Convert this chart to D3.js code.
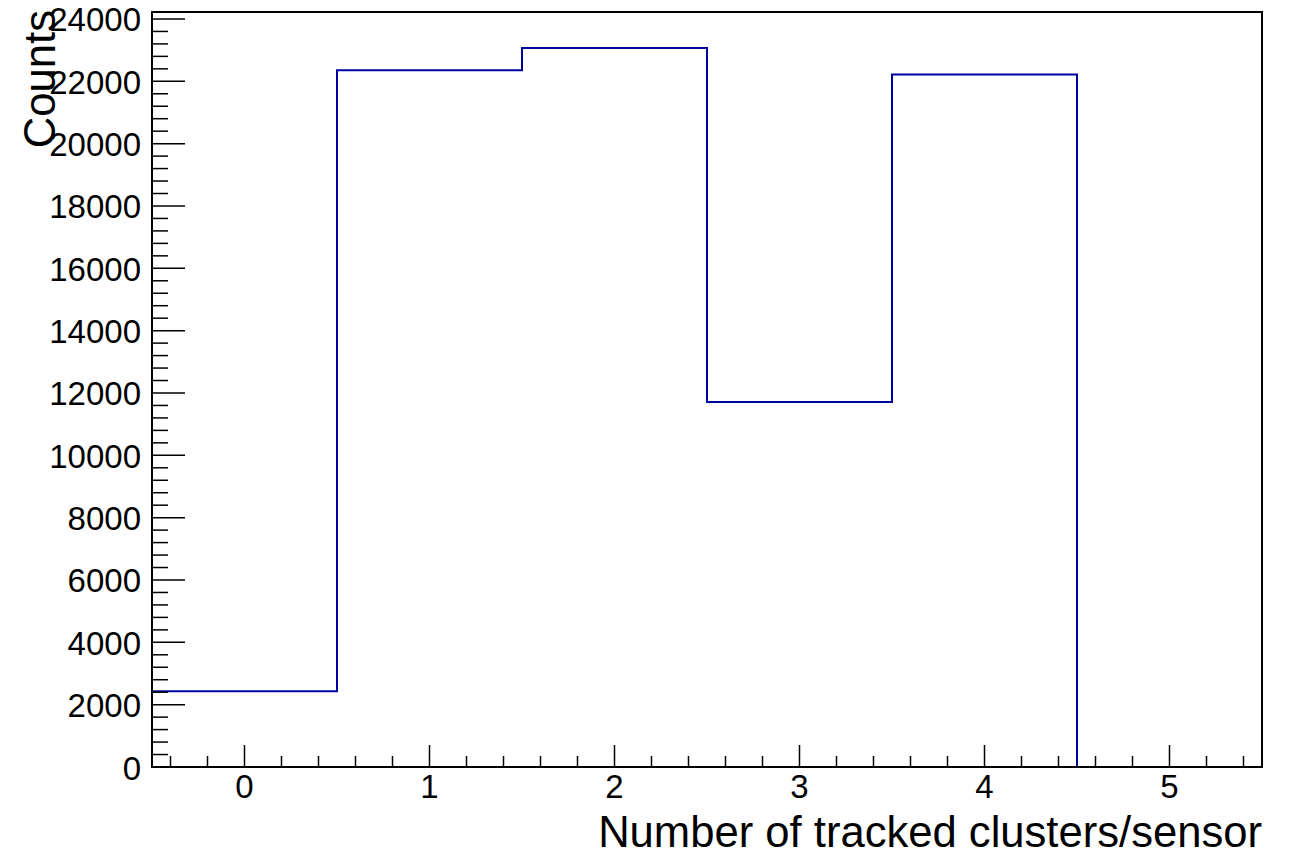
<!DOCTYPE html>
<html>
<head>
<meta charset="utf-8">
<script src="https://cdn.jsdelivr.net/npm/d3@7"></script>
<style>
  html, body { margin: 0; padding: 0; background: #fff; }
  svg { display: block; }
  text { font-family: "Liberation Sans", Arial, Helvetica, sans-serif; fill: #000; }
</style>
</head>
<body>
<svg id="chart" width="1295" height="856"></svg>
<script>
// ---- data ----
const binCenters = [0, 1, 2, 3, 4, 5];
const binCounts  = [2430, 22355, 23070, 11712, 22215, 0];
const xTickLabels = ["0", "1", "2", "3", "4", "5"];
const yTickValues = [0, 2000, 4000, 6000, 8000, 10000, 12000, 14000, 16000, 18000, 20000, 22000, 24000];
const xTitle = "Number of tracked clusters/sensor";
const yTitle = "Counts";

// ---- layout ----
const padL = 152, padR = 1262, padT = 12, padB = 767;
const svg = d3.select("#chart");

const x = d3.scaleLinear().domain([-0.5, 5.5]).range([padL, padR]);
const yMax = d3.max(binCounts) * 1.05;
const y = d3.scaleLinear().domain([0, yMax]).range([padB, padT]);

// histogram step path
let p = `M${x(binCenters[0] - 0.5)},${y(binCounts[0])}`;
binCenters.forEach((c, i) => {
  if (i > 0) p += `V${y(binCounts[i])}`;
  p += `H${x(c + 0.5)}`;
});
svg.append("path")
  .attr("d", p)
  .attr("fill", "none")
  .attr("stroke", "#0000a0")
  .attr("stroke-width", 2);

// frame
svg.append("rect")
  .attr("x", padL).attr("y", padT)
  .attr("width", padR - padL).attr("height", padB - padT)
  .attr("fill", "none").attr("stroke", "#000").attr("stroke-width", 2);

// y axis ticks (inside)
const yMinor = d3.range(0, 24001, 400);
const gy = svg.append("g");
gy.selectAll("line").data(yMinor).join("line")
  .attr("x1", padL).attr("x2", d => padL + (d % 2000 === 0 ? 33 : 16))
  .attr("y1", d => y(d)).attr("y2", d => y(d))
  .attr("stroke", "#000").attr("stroke-width", 1.5);
gy.selectAll("text").data(yTickValues).join("text")
  .attr("x", padL - 11).attr("y", d => y(d) + 1)
  .attr("text-anchor", "end").attr("dominant-baseline", "central")
  .attr("font-size", 33)
  .text(d => d);

// x axis ticks (inside)
const xMinor = d3.range(-2, 28).map(i => i * 0.2).filter(v => v > -0.5 && v < 5.5);
const gx = svg.append("g");
gx.selectAll("line").data(xMinor).join("line")
  .attr("x1", d => x(d)).attr("x2", d => x(d))
  .attr("y1", padB)
  .attr("y2", d => padB - (Math.abs(d - Math.round(d)) < 1e-6 ? 22 : 11))
  .attr("stroke", "#000").attr("stroke-width", 1.5);
gx.selectAll("text").data(binCenters).join("text")
  .attr("x", d => x(d)).attr("y", 798)
  .attr("text-anchor", "middle")
  .attr("font-size", 33)
  .text((d, i) => xTickLabels[i]);

// axis titles
svg.append("text")
  .attr("x", padR).attr("y", 847)
  .attr("text-anchor", "end")
  .attr("font-size", 43.6)
  .text(xTitle);
svg.append("text")
  .attr("transform", `translate(55, 10) rotate(-90)`)
  .attr("text-anchor", "end")
  .attr("font-size", 43.6)
  .text(yTitle);
</script>
</body>
</html>
